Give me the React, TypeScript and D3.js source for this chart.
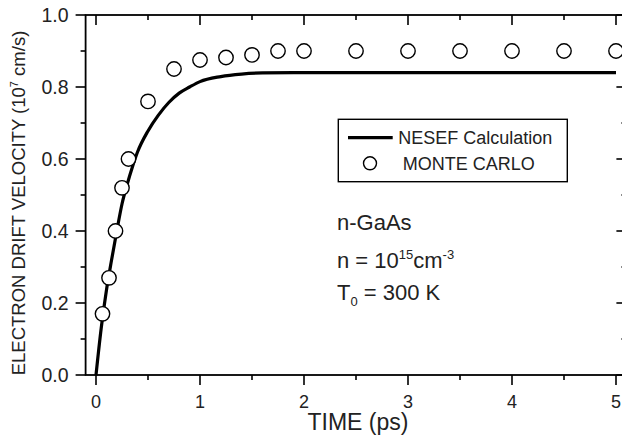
import React from "react";
import * as d3 from "d3";

const mcTime = [0.0625, 0.125, 0.1875, 0.25, 0.3125, 0.5, 0.75, 1, 1.25, 1.5, 1.75, 2, 2.5, 3, 3.5, 4, 4.5, 5];
const mcVel = [0.17, 0.27, 0.4, 0.52, 0.6, 0.76, 0.85, 0.875, 0.882, 0.889, 0.9, 0.9, 0.9, 0.9, 0.9, 0.9, 0.9, 0.9];

const nesefTime = [0, 0.05, 0.1, 0.15, 0.2, 0.25, 0.3, 0.35, 0.4, 0.5, 0.6, 0.7, 0.8, 0.9, 1.0, 1.2, 1.4, 1.6, 2.0, 3, 4, 5];
const nesefVel = [0, 0.13, 0.235, 0.32, 0.4, 0.475, 0.53, 0.578, 0.62, 0.678, 0.722, 0.757, 0.783, 0.8, 0.815, 0.829, 0.836, 0.839, 0.84, 0.84, 0.84, 0.84];

const xMajor = [0, 1, 2, 3, 4, 5];
const xMinor = [0.5, 1.5, 2.5, 3.5, 4.5];
const yMajor = [0, 0.2, 0.4, 0.6, 0.8, 1.0];
const yMinor = [0.1, 0.3, 0.5, 0.7, 0.9];

const FONT = "'Liberation Sans', Arial, Helvetica, sans-serif";

export default function App() {
  const x = d3.scaleLinear().domain([-0.1, 5.1]).range([85.6, 626.4]);
  const y = d3.scaleLinear().domain([0, 1]).range([375, 15]);
  const [x0, x1] = x.range();
  const [yb, yt] = y.range();

  const line = d3
    .line<number>()
    .x((_, i) => x(nesefTime[i]))
    .y((d) => y(d))
    .curve(d3.curveMonotoneX);

  const legendLine = d3.line()([[348, 137.7], [392.7, 137.7]]);

  return (
    <svg
      width={622}
      height={440}
      style={{ position: "absolute", left: 0, top: 0, background: "#fff" }}
      fontFamily={FONT}
    >
      <rect x={0} y={0} width={622} height={440} fill="#fff" />
      {/* frame */}
      <rect x={x0} y={yt} width={x1 - x0} height={yb - yt} fill="none" stroke="#000" strokeWidth={1.8} />

      {/* x ticks bottom (outward) and top (inward) */}
      {xMajor.map((t) => (
        <g key={"xM" + t}>
          <line x1={x(t)} x2={x(t)} y1={yb} y2={yb + 10} stroke="#000" strokeWidth={1.6} />
          <line x1={x(t)} x2={x(t)} y1={yt} y2={yt + 10} stroke="#000" strokeWidth={1.6} />
          <text x={x(t)} y={407.5} fontSize={18} textAnchor="middle" fill="#222">
            {d3.format("d")(t)}
          </text>
        </g>
      ))}
      {xMinor.map((t) => (
        <g key={"xm" + t}>
          <line x1={x(t)} x2={x(t)} y1={yb} y2={yb + 5} stroke="#000" strokeWidth={1.6} />
          <line x1={x(t)} x2={x(t)} y1={yt} y2={yt + 5} stroke="#000" strokeWidth={1.6} />
        </g>
      ))}
      {/* y ticks left (outward) and right (inward) */}
      {yMajor.map((v) => (
        <g key={"yM" + v}>
          <line x1={x0 - 10} x2={x0} y1={y(v)} y2={y(v)} stroke="#000" strokeWidth={1.6} />
          <line x1={x1 - 10} x2={x1} y1={y(v)} y2={y(v)} stroke="#000" strokeWidth={1.6} />
          <text x={68.5} y={y(v) + 7} fontSize={19.5} textAnchor="end" fill="#222">
            {d3.format(".1f")(v)}
          </text>
        </g>
      ))}
      {yMinor.map((v) => (
        <g key={"ym" + v}>
          <line x1={x0 - 5} x2={x0} y1={y(v)} y2={y(v)} stroke="#000" strokeWidth={1.6} />
          <line x1={x1 - 5} x2={x1} y1={y(v)} y2={y(v)} stroke="#000" strokeWidth={1.6} />
        </g>
      ))}

      {/* axis titles */}
      <text x={358} y={430} fontSize={23} textAnchor="middle" fill="#222">
        TIME (ps)
      </text>
      <text
        transform="translate(25,203) rotate(-90)"
        fontSize={18.5}
        textAnchor="middle"
        fill="#222"
      >
        ELECTRON DRIFT VELOCITY (10
        <tspan dy={-7} fontSize={11}>7</tspan>
        <tspan dy={7}> cm/s)</tspan>
      </text>

      {/* NESEF curve */}
      <path d={line(nesefVel) || ""} fill="none" stroke="#000" strokeWidth={3.2} />

      {/* Monte Carlo points */}
      {mcTime.map((t, i) => (
        <circle key={"mc" + i} cx={x(t)} cy={y(mcVel[i])} r={7.2} fill="#fff" stroke="#000" strokeWidth={1.4} />
      ))}

      {/* legend */}
      <rect x={338.3} y={119.3} width={229} height={62.4} fill="#fff" stroke="#000" strokeWidth={1.4} />
      <path d={legendLine || ""} stroke="#000" strokeWidth={3.2} fill="none" />
      <text x={398.3} y={144} fontSize={18} fill="#222">
        NESEF Calculation
      </text>
      <circle cx={370} cy={163.3} r={6.5} fill="#fff" stroke="#000" strokeWidth={1.4} />
      <text x={402.7} y={170} fontSize={18} fill="#222">
        MONTE CARLO
      </text>

      {/* annotation */}
      <text x={337} y={229.5} fontSize={22} fill="#222">
        n-GaAs
      </text>
      <text x={337} y={268} fontSize={22} fill="#222">
        n = 10
        <tspan dy={-9} fontSize={13}>15</tspan>
        <tspan dy={9}>cm</tspan>
        <tspan dy={-9} fontSize={13}>-3</tspan>
      </text>
      <text x={337} y={300} fontSize={22} fill="#222">
        T
        <tspan dy={6} fontSize={13}>0</tspan>
        <tspan dy={-6}> = 300 K</tspan>
      </text>
    </svg>
  );
}
